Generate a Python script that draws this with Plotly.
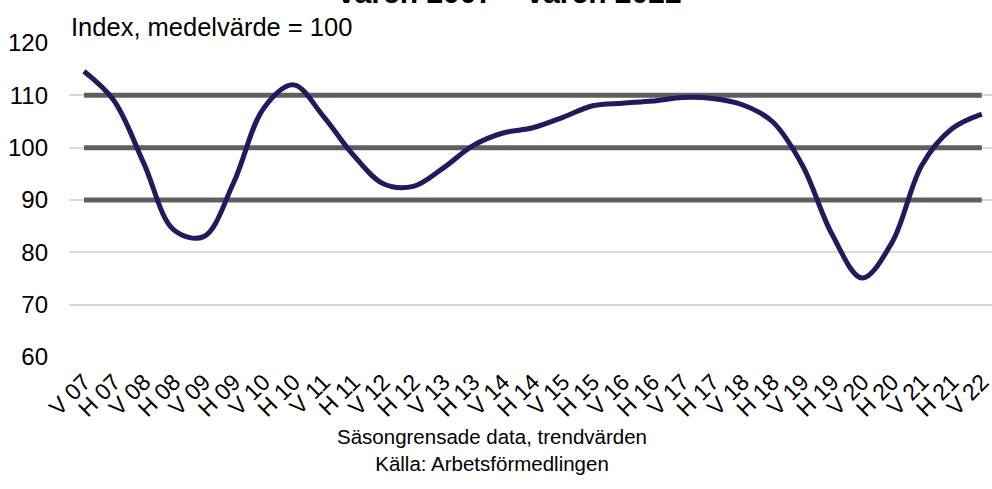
import plotly.graph_objects as go

categories = ["V 07", "H 07", "V 08", "H 08", "V 09", "H 09", "V 10", "H 10",
              "V 11", "H 11", "V 12", "H 12", "V 13", "H 13", "V 14", "H 14",
              "V 15", "H 15", "V 16", "H 16", "V 17", "H 17", "V 18", "H 18",
              "V 19", "H 19", "V 20", "H 20", "V 21", "H 21", "V 22"]
index_values = [114.6, 109.0, 97.0, 84.3, 83.0, 93.3, 107.5, 112.0,
                106.0, 98.6, 93.1, 92.6, 96.1, 100.4, 102.8, 103.8,
                105.8, 108.0, 108.5, 108.9, 109.6, 109.4, 108.2, 105.0,
                96.7, 83.4, 75.1, 81.9, 96.7, 103.6, 106.4]
band_levels = [90, 100, 110]
y_ticks = [60, 70, 80, 90, 100, 110, 120]

title_text = "våren 2007 – våren 2022"
unit_text = "Index, medelvärde = 100"
note_text = "Säsongrensade data, trendvärden<br>Källa: Arbetsförmedlingen"

FONT = "Liberation Sans, Arial, sans-serif"

fig = go.Figure()
for lvl in band_levels:
    fig.add_trace(go.Scatter(
        x=categories, y=[lvl] * len(categories), mode="lines",
        line=dict(color="#5f5f5f", width=5), hoverinfo="skip", showlegend=False))

fig.add_trace(go.Scatter(
    x=categories, y=index_values, mode="lines",
    line=dict(color="#1f1b5e", width=5, shape="spline", smoothing=1.0),
    showlegend=False))

fig.update_layout(
    width=992, height=489,
    margin=dict(l=69, r=0, t=43, b=132, autoexpand=False),
    paper_bgcolor="white", plot_bgcolor="white",
    font=dict(family=FONT, color="#000000"),
    xaxis=dict(type="category", range=[-0.5, 30.34], showgrid=False, zeroline=False,
               showline=False, tickangle=-45, tickfont=dict(size=23, color="#000"),
               tickmode="array", tickvals=categories, ticktext=categories,
               ticks="", ticklabelstandoff=6, automargin=False),
    yaxis=dict(range=[60, 120], tickvals=y_ticks, showgrid=True, gridcolor="#d9d9d9",
               gridwidth=1.5, zeroline=False, showline=False, ticks="",
               tickfont=dict(size=24, color="#000"), ticklabelstandoff=20,
               automargin=False),
    annotations=[
        dict(text=f"<b>{title_text}</b>", xref="paper", yref="paper", x=0.478, y=1,
             xanchor="center", yanchor="bottom", yshift=32, showarrow=False,
             font=dict(size=30, family=FONT, color="#000")),
        dict(text=unit_text, xref="paper", yref="paper", x=0, y=1,
             xanchor="left", yanchor="bottom", showarrow=False,
             font=dict(size=25.5, family=FONT, color="#000")),
        dict(text=note_text, xref="paper", yref="paper", x=0.458, y=0,
             xanchor="center", yanchor="top", yshift=-66, showarrow=False,
             font=dict(size=20.5, family=FONT, color="#000")),
    ],
)

fig.write_html("out.html", config={"displayModeBar": False},
               post_script="document.body.style.margin='0px';")
